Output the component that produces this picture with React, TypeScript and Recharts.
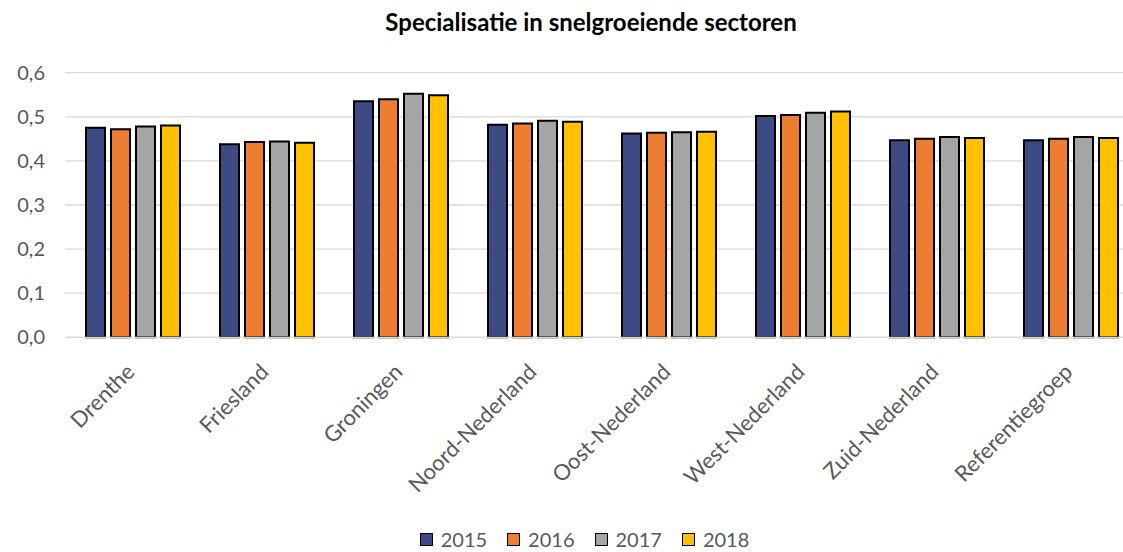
import React from 'react';
import { BarChart, Bar, XAxis, YAxis, CartesianGrid, Legend } from 'recharts';

const regions = ['Drenthe', 'Friesland', 'Groningen', 'Noord-Nederland', 'Oost-Nederland', 'West-Nederland', 'Zuid-Nederland', 'Referentiegroep'];
const v2015 = [0.475, 0.438, 0.535, 0.482, 0.462, 0.502, 0.447, 0.447];
const v2016 = [0.472, 0.443, 0.540, 0.485, 0.464, 0.504, 0.450, 0.450];
const v2017 = [0.478, 0.444, 0.552, 0.491, 0.465, 0.509, 0.454, 0.454];
const v2018 = [0.480, 0.441, 0.549, 0.489, 0.466, 0.512, 0.452, 0.452];
const years = ['2015', '2016', '2017', '2018'];
const colors = ['#3E4A83', '#ED7D31', '#A5A5A5', '#FFC000'];
const yTicks = [0, 0.1, 0.2, 0.3, 0.4, 0.5, 0.6];
const title = 'Specialisatie in snelgroeiende sectoren';

const data = regions.map((r, i) => ({
  name: r,
  '2015': v2015[i],
  '2016': v2016[i],
  '2017': v2017[i],
  '2018': v2018[i],
}));

const FONT = 'Lato, "Open Sans", sans-serif';

const XTick = (props: any) => {
  const { x, y, payload } = props;
  const ax = x + 4;
  const ay = y + 36;
  return (
    <text
      x={ax}
      y={ay}
      transform={`rotate(-45, ${ax}, ${ay})`}
      textAnchor="end"
      fill="#595959"
      fontSize={22}
      fontFamily={FONT}
    >
      {payload.value}
    </text>
  );
};

const LegendContent = () => (
  <div style={{ display: 'flex', justifyContent: 'center', alignItems: 'center', height: 20, fontFamily: FONT, fontSize: 20, color: '#595959' }}>
    {years.map((y, i) => (
      <div key={y} style={{ display: 'flex', alignItems: 'center', marginRight: i < years.length - 1 ? 20 : 0 }}>
        <div style={{ width: 11, height: 11, background: colors[i], border: '1.5px solid #000', marginRight: 8 }} />
        <span style={{ lineHeight: '20px' }}>{y}</span>
      </div>
    ))}
  </div>
);

export default function App() {
  return (
    <div style={{ position: 'absolute', left: 0, top: 0, width: 1123, height: 552, overflow: 'hidden', background: '#fff' }}>
      <div style={{ position: 'absolute', left: 0, width: 1182, top: 7, textAlign: 'center', fontFamily: FONT, fontWeight: 700, fontSize: 24, color: '#000', lineHeight: '30px' }}>
        {title}
      </div>
      <BarChart
        width={1140}
        height={552}
        data={data}
        margin={{ top: 72.7, right: 3, left: 0, bottom: 3 }}
        barCategoryGap={21}
        barGap={6}
      >
        <CartesianGrid horizontal vertical={false} stroke="#d9d9d9" strokeWidth={1.3} />
        <XAxis
          dataKey="name"
          height={191.7}
          tick={<XTick />}
          tickLine={false}
          tickSize={0}
          tickMargin={0}
          axisLine={{ stroke: '#d9d9d9', strokeWidth: 1.3 }}
          interval={0}
        />
        <YAxis
          domain={[0, 0.6]}
          ticks={yTicks}
          width={65}
          axisLine={false}
          tickLine={false}
          tickSize={0}
          tickMargin={20}
          tickFormatter={(v: number) => v.toFixed(1).replace('.', ',')}
          tick={{ fill: '#595959', fontSize: 20, fontFamily: FONT }}
        />
        <Legend
          verticalAlign="bottom"
          height={20}
          wrapperStyle={{ left: 0, width: 1169 }}
          content={<LegendContent />}
        />
        {years.map((y, i) => (
          <Bar key={y} dataKey={y} fill={colors[i]} stroke="#000" strokeWidth={2} isAnimationActive={false} />
        ))}
      </BarChart>
    </div>
  );
}
